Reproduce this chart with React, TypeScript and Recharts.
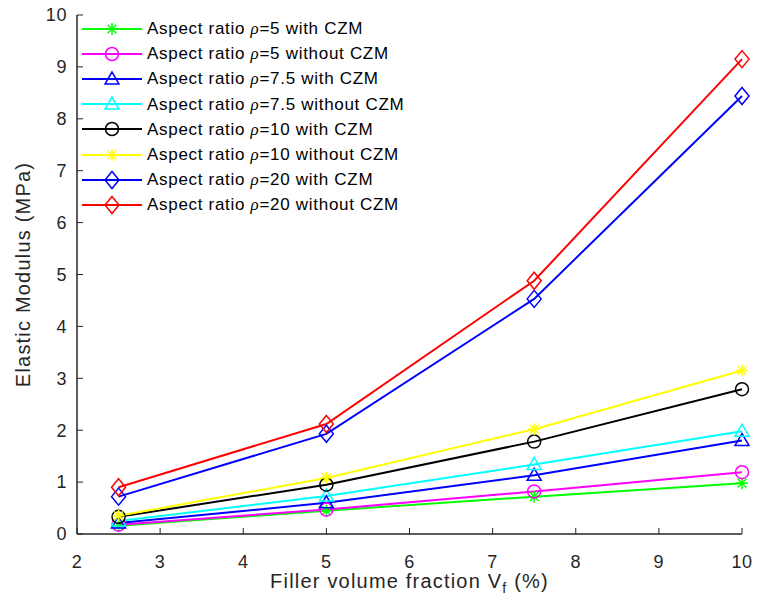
import React from "react";
import { LineChart, Line, XAxis, YAxis, Legend } from "recharts";

const volumeFractions = [2.5, 5, 7.5, 10];

const rho5With = [0.16, 0.45, 0.72, 0.98];
const rho5Without = [0.18, 0.47, 0.82, 1.19];
const rho75With = [0.21, 0.6, 1.13, 1.8];
const rho75Without = [0.25, 0.73, 1.34, 1.98];
const rho10With = [0.33, 0.95, 1.78, 2.79];
const rho10Without = [0.35, 1.08, 2.02, 3.15];
const rho20With = [0.72, 1.93, 4.53, 8.44];
const rho20Without = [0.9, 2.12, 4.88, 9.15];

const xTicks = [2, 3, 4, 5, 6, 7, 8, 9, 10];
const yTicks = [0, 1, 2, 3, 4, 5, 6, 7, 8, 9, 10];

type Shape = "star" | "circle" | "triangle" | "diamond";

interface SeriesDef {
  key: string;
  rho: string;
  czm: string;
  color: string;
  shape: Shape;
  values: number[];
}

const SERIES: SeriesDef[] = [
  { key: "r5w", rho: "5", czm: "with", color: "#00ff00", shape: "star", values: rho5With },
  { key: "r5o", rho: "5", czm: "without", color: "#ff00ff", shape: "circle", values: rho5Without },
  { key: "r75w", rho: "7.5", czm: "with", color: "#0000ff", shape: "triangle", values: rho75With },
  { key: "r75o", rho: "7.5", czm: "without", color: "#00ffff", shape: "triangle", values: rho75Without },
  { key: "r10w", rho: "10", czm: "with", color: "#000000", shape: "circle", values: rho10With },
  { key: "r10o", rho: "10", czm: "without", color: "#ffff00", shape: "star", values: rho10Without },
  { key: "r20w", rho: "20", czm: "with", color: "#0000ff", shape: "diamond", values: rho20With },
  { key: "r20o", rho: "20", czm: "without", color: "#ff0000", shape: "diamond", values: rho20Without },
];

const rows = volumeFractions.map((vf, i) => {
  const row: Record<string, number> = { vf };
  SERIES.forEach((s) => {
    row[s.key] = s.values[i];
  });
  return row;
});

const FONT = "Arial, 'Liberation Sans', Helvetica, sans-serif";
const AXIS_COLOR = "#262626";

function Marker({ shape, cx, cy, color }: { shape: Shape; cx: number; cy: number; color: string }) {
  const common = { stroke: color, strokeWidth: 1.5, fill: "none" };
  if (shape === "circle") return <circle cx={cx} cy={cy} r={6.5} {...common} />;
  if (shape === "triangle")
    return <polygon points={`${cx},${cy - 7} ${cx - 7},${cy + 5} ${cx + 7},${cy + 5}`} {...common} />;
  if (shape === "diamond")
    return <polygon points={`${cx},${cy - 8.5} ${cx + 7},${cy} ${cx},${cy + 8.5} ${cx - 7},${cy}`} {...common} />;
  const r = 6;
  const d = r * 0.72;
  return (
    <g {...common}>
      <line x1={cx - r} y1={cy} x2={cx + r} y2={cy} />
      <line x1={cx} y1={cy - r} x2={cx} y2={cy + r} />
      <line x1={cx - d} y1={cy - d} x2={cx + d} y2={cy + d} />
      <line x1={cx - d} y1={cy + d} x2={cx + d} y2={cy - d} />
    </g>
  );
}

function LegendBox() {
  return (
    <div style={{ fontFamily: FONT, fontSize: 17, letterSpacing: 0.7, color: "#000", lineHeight: "25.2px" }}>
      {SERIES.map((s) => (
        <div key={s.key} style={{ display: "flex", alignItems: "center", height: 25.2, whiteSpace: "nowrap" }}>
          <svg width={65} height={20} style={{ flex: "none" }}>
            <line x1={0} y1={10} x2={60} y2={10} stroke={s.color} strokeWidth={2} />
            <Marker shape={s.shape} cx={30} cy={10} color={s.color} />
          </svg>
          <span>
            Aspect ratio <span style={{ fontFamily: "'Liberation Serif', serif", fontStyle: "italic" }}>ρ</span>={s.rho}{" "}
            {s.czm} CZM
          </span>
        </div>
      ))}
    </div>
  );
}

const blankTick = () => <g />;
const axisLine = { stroke: AXIS_COLOR, strokeWidth: 1.5 };
const tickLine = { stroke: AXIS_COLOR, strokeWidth: 1 };
const tickStyle = { fontSize: 18, fill: AXIS_COLOR, fontFamily: FONT, letterSpacing: 0.6 };

export default function App() {
  return (
    <div style={{ position: "absolute", left: 0, top: 0, width: 757, height: 605, background: "#fff" }}>
      <LineChart width={757} height={605} data={rows} margin={{ top: 15, right: 15, bottom: 0, left: 0 }}>
        <XAxis
          dataKey="vf"
          type="number"
          domain={[2, 10]}
          ticks={xTicks}
          height={71}
          axisLine={axisLine}
          tickLine={tickLine}
          tickSize={-6}
          tickMargin={27}
          tick={tickStyle}
          label={{
            content: (props: any) => {
              const vb = props.viewBox || {};
              return (
                <text
                  x={vb.x + vb.width / 2}
                  y={vb.y + 54}
                  textAnchor="middle"
                  fontSize={20}
                  letterSpacing={1.2}
                  fontFamily={FONT}
                  fill={AXIS_COLOR}
                >
                  Filler volume fraction V
                  <tspan fontSize={14} dy={5}>
                    f
                  </tspan>
                  <tspan dy={-5}> (%)</tspan>
                </text>
              );
            },
          }}
        />
        <XAxis
          xAxisId="top"
          orientation="top"
          type="number"
          domain={[2, 10]}
          ticks={xTicks}
          height={0}
          axisLine={axisLine}
          tickLine={tickLine}
          tickSize={-6}
          tick={blankTick}
        />
        <YAxis
          type="number"
          domain={[0, 10]}
          ticks={yTicks}
          width={77}
          axisLine={axisLine}
          tickLine={tickLine}
          tickSize={-6}
          tickMargin={16}
          tick={tickStyle}
          label={{
            content: (props: any) => {
              const vb = props.viewBox || {};
              const cx = vb.x + 23;
              const cy = vb.y + vb.height / 2;
              return (
                <text
                  x={cx}
                  y={cy}
                  transform={`rotate(-90, ${cx}, ${cy})`}
                  textAnchor="middle"
                  dominantBaseline="central"
                  fontSize={20}
                  letterSpacing={1.2}
                  fontFamily={FONT}
                  fill={AXIS_COLOR}
                >
                  Elastic Modulus (MPa)
                </text>
              );
            },
          }}
        />
        <YAxis
          yAxisId="right"
          orientation="right"
          type="number"
          domain={[0, 10]}
          ticks={yTicks}
          width={0}
          axisLine={axisLine}
          tickLine={tickLine}
          tickSize={-6}
          tick={blankTick}
        />
        <Legend
          layout="horizontal"
          verticalAlign="middle"
          align="center"
          wrapperStyle={{ position: "absolute", left: 82, top: 16, width: 340, height: 205 }}
          content={() => <LegendBox />}
        />
        {SERIES.map((s) => (
          <Line
            key={s.key}
            dataKey={s.key}
            stroke={s.color}
            strokeWidth={2}
            isAnimationActive={false}
            dot={(p: any) => <Marker key={`${s.key}-${p.index}`} shape={s.shape} cx={p.cx} cy={p.cy} color={s.color} />}
            activeDot={false}
          />
        ))}
      </LineChart>
    </div>
  );
}
